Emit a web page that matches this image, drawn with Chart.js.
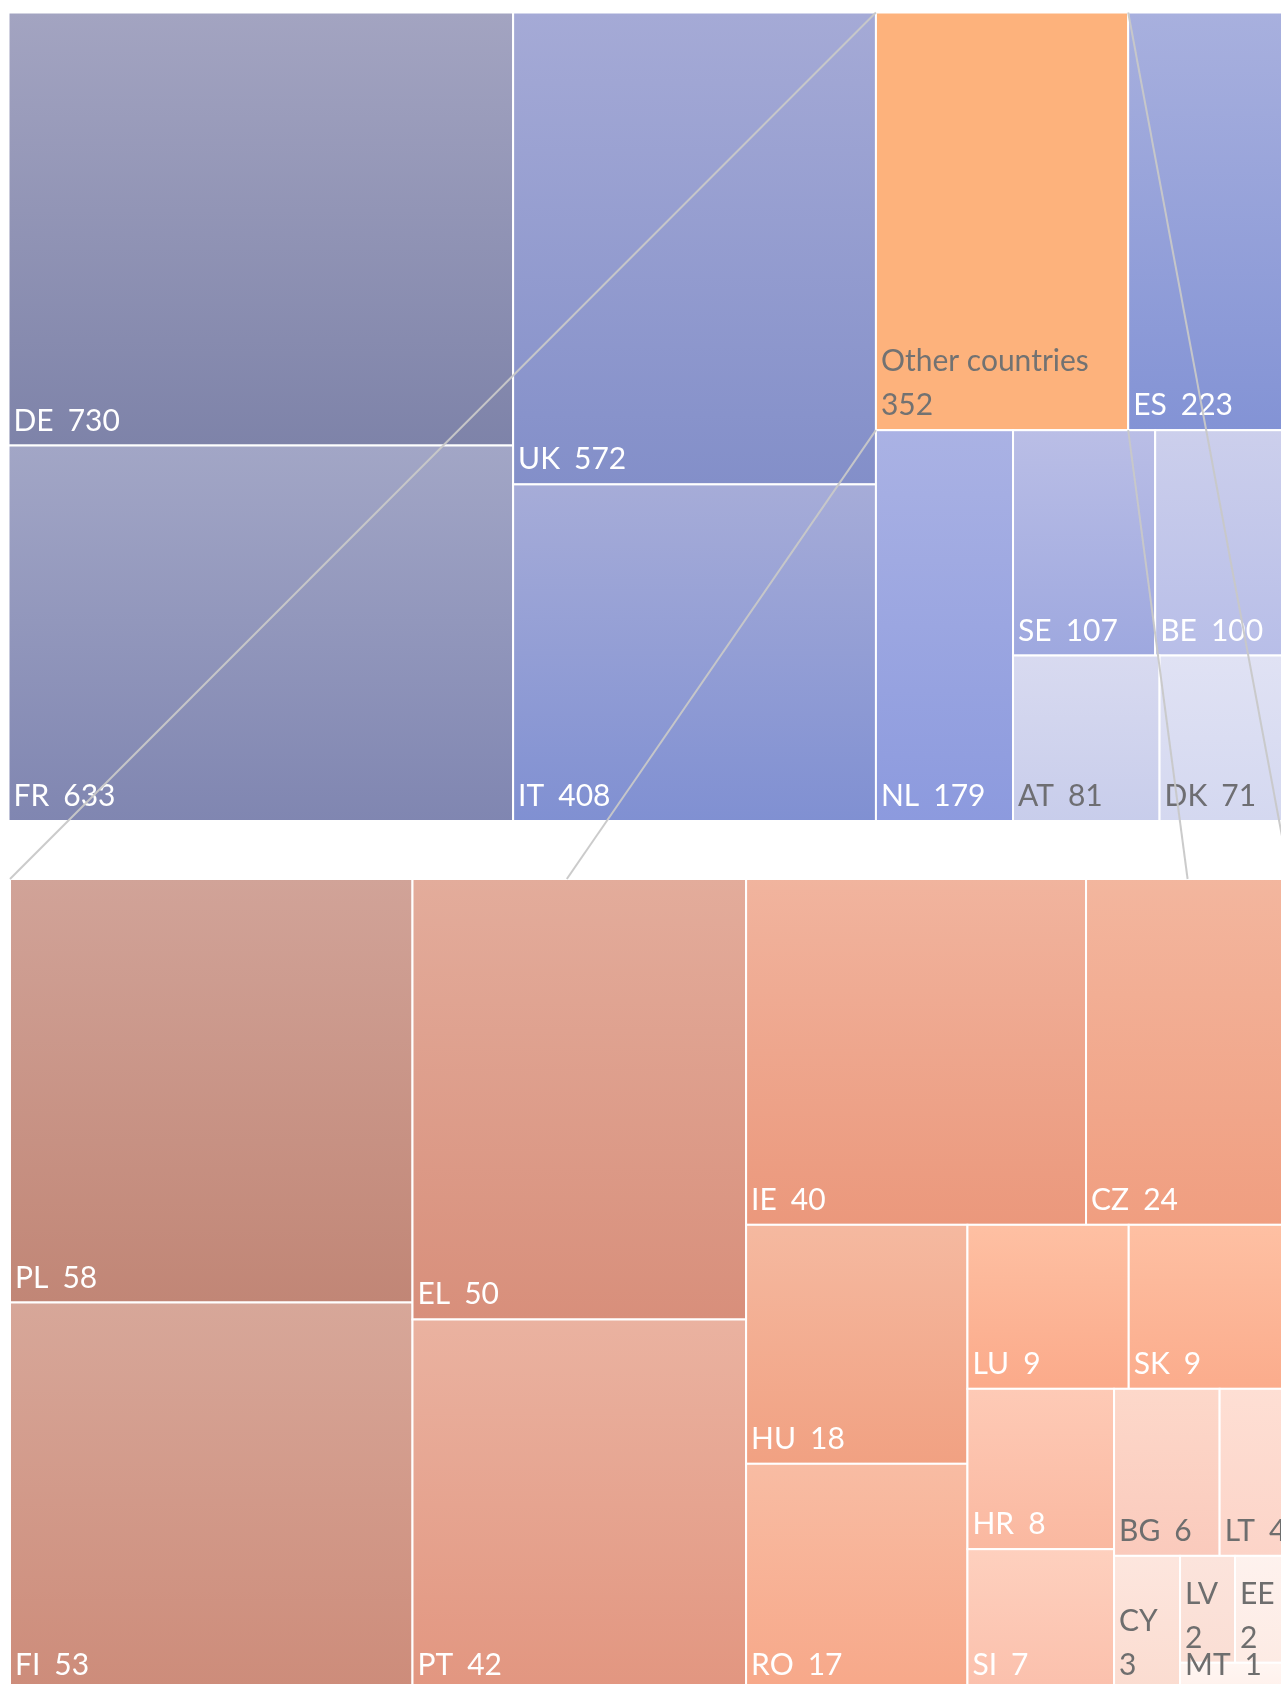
<!DOCTYPE html>
<html>
<head>
<meta charset="utf-8">
<script src="https://cdn.jsdelivr.net/npm/chart.js@4.4.1/dist/chart.umd.min.js"></script>
<style>
html,body{margin:0;padding:0;background:#ffffff;overflow:hidden}
canvas{display:block}
</style>
</head>
<body>
<canvas id="c" width="1281" height="1684" style="width:1281px;height:1684px"></canvas>
<script>
// ---------------- DATA ----------------
const mainCategories = ['DE', 'FR', 'UK', 'IT', 'Other countries', 'ES', 'NL', 'SE', 'BE', 'AT', 'DK'];
const mainValues = [730, 633, 572, 408, 352, 223, 179, 107, 100, 81, 71];
const expandedCategory = 'Other countries';
const otherCategories = ['PL', 'FI', 'EL', 'PT', 'IE', 'CZ', 'HU', 'RO', 'LU', 'SK', 'HR', 'SI', 'BG', 'LT', 'CY', 'LV', 'EE', 'MT'];
const otherValues = [58, 53, 50, 42, 40, 24, 18, 17, 9, 9, 8, 7, 6, 4, 3, 2, 2, 1];

// ---------------- STYLES ----------------
const mainFills = [
  ['#A3A4C1', '#7E83A9'], ['#A2A6C6', '#8086B1'], ['#A5AAD6', '#838FC9'], ['#A6ACD8', '#8090D2'],
  ['#FDB27C', '#FDB27C'], ['#A8B0DE', '#8393D5'], ['#AAB2E4', '#8C9ADE'], ['#BABEE6', '#9EA8DF'],
  ['#CCCFEC', '#B8BEE8'], ['#D8DAF0', '#C8CDEB'], ['#E0E2F4', '#D4D8F0']
];
const mainText = ['#fff', '#fff', '#fff', '#fff', '#727272', '#fff', '#fff', '#fff', '#fff', '#6E6E72', '#6E6E72'];
const otherFills = [
  ['#D1A398', '#C18676'], ['#D7A799', '#CD8C7A'], ['#E3AC9B', '#D88F7B'], ['#EAB2A0', '#E29680'],
  ['#F1B49E', '#EB987C'], ['#F3B69E', '#F09E80'], ['#F5B9A0', '#F1A182'], ['#F8BCA3', '#F7A889'],
  ['#FEC0A3', '#FBAA8A'], ['#FEC0A3', '#FBAC8C'], ['#FECAB6', '#FAB8A0'], ['#FED0BE', '#FBC0AC'],
  ['#FDD8CA', '#FACABC'], ['#FEDFD4', '#FCD4C8'], ['#FDE6DE', '#FBDCD0'], ['#FCE4DC', '#FADED4'],
  ['#FEF2EE', '#FDEBE4'], ['#FFF6F2', '#FFF1EC']
];
const otherText = ['#fff', '#fff', '#fff', '#fff', '#fff', '#fff', '#fff', '#fff', '#fff', '#fff', '#fff', '#fff',
  '#6E6E6E', '#6E6E6E', '#6E6E6E', '#6E6E6E', '#6E6E6E', '#6E6E6E'];

// layout frame (data units of the hidden linear axes)
const FRAME = {
  top:    { x: 0,   y: 0,     w: 1279.5, h: 808.5 },
  bottom: { x: 1.5, y: 866.5, w: 1280,   h: 810.5 },
  xMax: 1272.5, yMax: 1671.5,
  aspectBias: 1.4,       // preferred height/width of cells
  orientationBias: 1.12  // threshold for laying strips as columns vs rows
};
// where the zoom connector lines reach the top edge of the detail treemap (fraction of its width)
const connectorTargets = [
  { corner: 'tl', to: 0 }, { corner: 'bl', to: 0.435 },
  { corner: 'tr', to: 1 }, { corner: 'br', to: 0.92 }
];

// ---------------- LAYOUT (squarified, in a vertically biased space) ----------------
function squarify(values, box, bias, oBias) {
  const total = values.reduce((a, b) => a + b, 0);
  const rect = { x: box.x, y: 0, w: box.w, h: box.h / bias };
  const k = rect.w * rect.h / total;
  const areas = values.map(v => v * k);
  const worst = (row, L) => {
    const s = row.reduce((a, b) => a + b, 0);
    const t = s / L;
    let m = 0;
    row.forEach(a => { const len = a / t; m = Math.max(m, t / len, len / t); });
    return m;
  };
  const cells = [];
  let i = 0;
  while (i < areas.length) {
    const vertical = rect.w >= rect.h * bias / oBias;
    const L = vertical ? rect.h : rect.w;
    const row = [areas[i]];
    let cur = worst(row, L);
    let j = i + 1;
    while (j < areas.length) {
      const nxt = worst(row.concat([areas[j]]), L);
      if (nxt <= cur) { row.push(areas[j]); cur = nxt; j++; } else break;
    }
    const s = row.reduce((a, b) => a + b, 0);
    const t = s / L;
    let off = 0;
    row.forEach(a => {
      const len = a / t;
      if (vertical) cells.push({ x: rect.x, y: rect.y + off, w: t, h: len });
      else cells.push({ x: rect.x + off, y: rect.y, w: len, h: t });
      off += len;
    });
    if (vertical) { rect.x += t; rect.w -= t; } else { rect.y += t; rect.h -= t; }
    i = j;
  }
  return cells.map(c => ({ x: c.x, y: box.y + c.y * bias, w: c.w, h: c.h * bias }));
}

function buildCells(cats, vals, box) {
  return squarify(vals, box, FRAME.aspectBias, FRAME.orientationBias).map((c, i) => ({
    x: c.x, y: c.y, w: c.w, h: c.h, name: cats[i], value: vals[i]
  }));
}

const topCells = buildCells(mainCategories, mainValues, FRAME.top);
const bottomCells = buildCells(otherCategories, otherValues, FRAME.bottom);

// ---------------- PLUGIN: draw cells, labels, connectors ----------------
const treemapPlugin = {
  id: 'treemapCells',
  afterDatasetsDraw(chart) {
    const { ctx, chartArea, scales } = chart;
    const xs = scales.x, ys = scales.y;
    const px = c => {
      const x0 = xs.getPixelForValue(c.x), x1 = xs.getPixelForValue(c.x + c.w);
      const y0 = ys.getPixelForValue(c.y), y1 = ys.getPixelForValue(c.y + c.h);
      return { x0, x1, y0, y1 };
    };
    ctx.save();
    ctx.beginPath();
    ctx.rect(chartArea.left - 2, chartArea.top - 2, chartArea.right - chartArea.left + 4, chartArea.bottom - chartArea.top + 4);
    ctx.clip();

    // cells
    chart.data.datasets.forEach(ds => {
      ds.data.forEach((c, i) => {
        const r = px(c);
        const col = ds.cellFills[i];
        let fill = col[0];
        if (col[0] !== col[1]) {
          fill = ctx.createLinearGradient(0, r.y0, 0, r.y1);
          fill.addColorStop(0, col[0]);
          fill.addColorStop(1, col[1]);
        }
        ctx.fillStyle = fill;
        ctx.fillRect(r.x0, r.y0, r.x1 - r.x0, r.y1 - r.y0);
        ctx.strokeStyle = '#ffffff';
        ctx.lineWidth = 2;
        ctx.strokeRect(r.x0, r.y0, r.x1 - r.x0, r.y1 - r.y0);
      });
    });

    // labels
    const fontSize = 30, lineH = 44, pad = 5, gap = 14, base = 15;
    ctx.font = fontSize + 'px Lato, "Open Sans", sans-serif';
    ctx.textBaseline = 'alphabetic';
    ctx.textAlign = 'left';
    chart.data.datasets.forEach(ds => {
      ds.data.forEach((c, i) => {
        const r = px(c);
        const name = c.name, val = String(c.value);
        const wN = ctx.measureText(name).width, wV = ctx.measureText(val).width;
        ctx.fillStyle = ds.textColors[i];
        const by = r.y1 - base;
        if (pad + wN + gap + wV <= (r.x1 - r.x0) - 2) {
          ctx.fillText(name, r.x0 + pad, by);
          ctx.fillText(val, r.x0 + pad + wN + gap, by);
        } else {
          ctx.fillText(name, r.x0 + pad, by - lineH);
          ctx.fillText(val, r.x0 + pad, by);
        }
      });
    });

    // connectors from the expanded category to the detail treemap
    const src = chart.data.datasets[0].data.find(c => c.name === expandedCategory);
    if (src) {
      const s = px(src);
      const corners = { tl: [s.x0, s.y0], bl: [s.x0, s.y1], tr: [s.x1, s.y0], br: [s.x1, s.y1] };
      const b = FRAME.bottom;
      const ty = ys.getPixelForValue(b.y);
      ctx.strokeStyle = 'rgba(200,200,200,0.95)';
      ctx.lineWidth = 2;
      connectorTargets.forEach(t => {
        const p = corners[t.corner];
        const tx = xs.getPixelForValue(b.x + b.w * t.to);
        ctx.beginPath();
        ctx.moveTo(p[0], p[1]);
        ctx.lineTo(tx, ty);
        ctx.stroke();
      });
    }
    ctx.restore();
  }
};

new Chart(document.getElementById('c'), {
  type: 'scatter',
  data: {
    datasets: [
      { label: 'Countries', data: topCells, cellFills: mainFills, textColors: mainText, pointRadius: 0, showLine: false },
      { label: expandedCategory, data: bottomCells, cellFills: otherFills, textColors: otherText, pointRadius: 0, showLine: false }
    ]
  },
  options: {
    responsive: false,
    devicePixelRatio: 1,
    animation: false,
    layout: { padding: { left: 8.5, top: 12.5, right: 0, bottom: 0 } },
    scales: {
      x: { type: 'linear', min: 0, max: FRAME.xMax, display: false },
      y: { type: 'linear', min: 0, max: FRAME.yMax, reverse: true, display: false }
    },
    plugins: { legend: { display: false }, tooltip: { enabled: false } },
    events: []
  },
  plugins: [treemapPlugin]
});
</script>
</body>
</html>
